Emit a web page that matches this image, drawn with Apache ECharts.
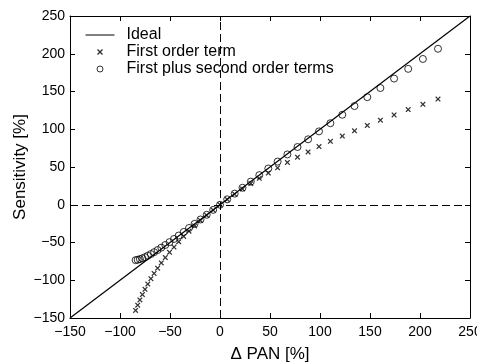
<!DOCTYPE html>
<html>
<head>
<meta charset="utf-8">
<script src="https://cdn.jsdelivr.net/npm/echarts@6/dist/echarts.min.js"></script>
<style>
html,body{margin:0;padding:0;background:#fff;}
#c{width:477px;height:363px;}
</style>
</head>
<body>
<div id="c"></div>
<script>
// ---- data ----
const deltaPAN = [-84.4,-82.3,-80.1,-77.6,-75.0,-72.2,-69.1,-65.9,-62.4,-58.7,-54.7,-50.5,-46.0,-41.3,-36.3,-31.0,-25.4,-19.5,-13.3,-6.8,0,7.2,14.7,22.5,30.8,39.3,48.3,57.6,67.4,77.5,88.1,99.0,110.4,122.3,134.5,147.3,160.4,174.1,188.2,202.9,218.0];
const firstOrder = [-140,-133,-126,-119,-112,-105,-98,-91,-84,-77,-70,-63,-56,-49,-42,-35,-28,-21,-14,-7,0,7,14,21,28,35,42,49,56,63,70,77,84,91,98,105,112,119,126,133,140];
const firstPlusSecond = [-73.4,-72.9,-72.0,-70.9,-69.4,-67.5,-65.3,-62.8,-60.0,-56.8,-53.3,-49.5,-45.3,-40.8,-36.0,-30.8,-25.3,-19.5,-13.3,-6.8,0,7.2,14.7,22.5,30.7,39.2,48.0,57.2,66.7,76.5,86.7,97.2,108.0,119.2,130.7,142.5,154.6,167.1,180.0,193.1,206.6];
const idealX = [-150, 250];
const idealY = [-150, 250];
const seriesNames = ['Ideal', 'First order term', 'First plus second order terms'];
const axisMin = -150, axisMax = 250, axisStep = 50;

const FONT = '"Liberation Sans", Arial, Helvetica, sans-serif';
const minus = v => String(v).replace('-', '\u2212');
const crossPath = 'path://M0,1.6 L1.6,0 L5,3.4 L8.4,0 L10,1.6 L6.6,5 L10,8.4 L8.4,10 L5,6.6 L1.6,10 L0,8.4 L3.4,5 Z';

const zip = (a, b) => a.map((v, i) => [v, b[i]]);

function mainAxis(pos, name, nameGap, isX) {
  return {
    type: 'value', min: axisMin, max: axisMax, interval: axisStep, position: pos,
    name: name, nameLocation: 'middle', nameGap: nameGap, nameMoveOverlap: false,
    nameTextStyle: {fontFamily: FONT, fontSize: 17, color: '#000'},
    axisLine: {show: true, onZero: false, lineStyle: {color: '#000', width: 1}},
    axisTick: {show: true, inside: true, length: 5, lineStyle: {color: '#000', width: 1}},
    axisLabel: {show: true, margin: isX ? 7 : 5, fontFamily: FONT, fontSize: 14, color: '#000', formatter: minus},
    splitLine: {show: false}
  };
}
function boxAxis(pos) {
  return {
    type: 'value', min: axisMin, max: axisMax, interval: axisStep, position: pos,
    axisLine: {show: true, onZero: false, lineStyle: {color: '#000', width: 1}},
    axisTick: {show: true, inside: true, length: 5, lineStyle: {color: '#000', width: 1}},
    axisLabel: {show: false}, splitLine: {show: false}
  };
}

const chart = echarts.init(document.getElementById('c'), null, {renderer: 'canvas'});
chart.setOption({
  animation: false,
  backgroundColor: '#fff',
  grid: {left: 70, right: 7, top: 16, bottom: 45, containLabel: false, outerBoundsMode: 'none'},
  xAxis: [mainAxis('bottom', '\u0394 PAN [%]', 28, true), boxAxis('top')],
  yAxis: [mainAxis('left', 'Sensitivity [%]', 41, false), boxAxis('right')],
  legend: {
    orient: 'vertical', left: 85, top: 27, padding: 0, itemWidth: 29, itemHeight: 6, itemGap: 1,
    textStyle: {fontFamily: FONT, fontSize: 16, color: '#000', lineHeight: 15.5, padding: [0, 0, 0, 7]},
    data: [
      {name: seriesNames[0], itemStyle: {color: 'rgba(0,0,0,0)', borderWidth: 0}, lineStyle: {color: '#000', width: 1}},
      {name: seriesNames[1]},
      {name: seriesNames[2], itemStyle: {color: 'rgba(0,0,0,0)', borderColor: '#000', borderWidth: 1}}
    ]
  },
  series: [
    {
      name: seriesNames[0], type: 'line', data: zip(idealX, idealY), symbol: 'none',
      lineStyle: {color: '#000', width: 1.2}, itemStyle: {color: '#000'}, z: 2,
      markLine: {
        silent: true, symbol: 'none', label: {show: false},
        lineStyle: {color: '#000', width: 1, type: [8, 4]},
        data: [{xAxis: 0}, {yAxis: 0}]
      }
    },
    {
      name: seriesNames[1], type: 'scatter', data: zip(deltaPAN, firstOrder),
      symbol: crossPath, symbolSize: 5.5, symbolKeepAspect: true, itemStyle: {color: '#000'}, z: 3
    },
    {
      name: seriesNames[2], type: 'scatter', data: zip(deltaPAN, firstPlusSecond),
      symbol: 'circle', symbolSize: 7,
      itemStyle: {color: 'rgba(0,0,0,0)', borderColor: '#000', borderWidth: 1}, z: 4
    }
  ]
});
</script>
</body>
</html>
